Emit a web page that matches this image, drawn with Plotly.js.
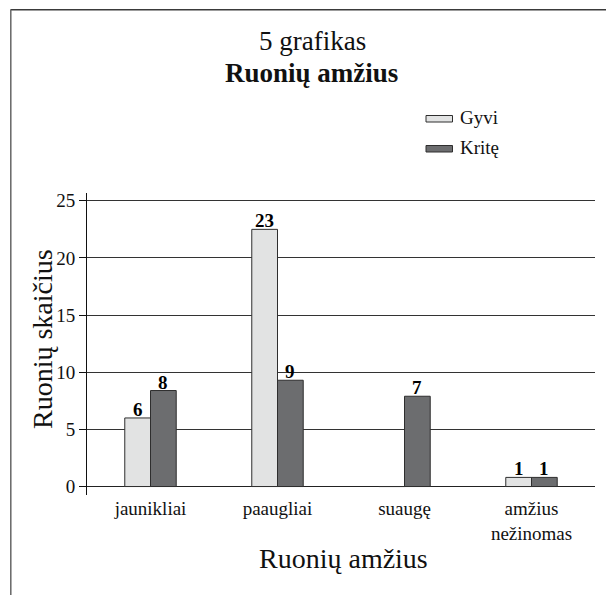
<!DOCTYPE html>
<html>
<head>
<meta charset="utf-8">
<script src="https://cdn.plot.ly/plotly-3.0.1.min.js"></script>
<style>
  html, body { margin: 0; padding: 0; background: #fff; }
  #chart { width: 606px; height: 595px; }
</style>
</head>
<body>
<div id="chart"></div>
<script>
// ---- data ----
const categories = ["jaunikliai", "paaugliai", "suaugę", "amžius<br>nežinomas"];
const seriesNames = ["Gyvi", "Kritę"];
const gyviValues = [6.0, 22.5, 0, 0.8];
const kriteValues = [8.4, 9.3, 7.9, 0.8];
const gyviLabels = ["6", "23", "", "1"];
const kriteLabels = ["8", "9", "7", "1"];
const yTicks = [0, 5, 10, 15, 20, 25];

// ---- layout helpers (pixel -> paper) ----
const L = 87, R = 595, T = 193, B = 495;
const W = 606, H = 595;
const px = v => (v - L) / (R - L);
const py = v => (B - v) / (B - T);

const serif = "Liberation Serif, Times New Roman, serif";
const colGyvi = "#e2e3e3";
const colKrite = "#6c6d6f";
const outline = "#2e2e2e";
const bargap = 0.595;
const halfBar = (R - L) / categories.length * (1 - bargap) / 4;

const traces = [
  {
    type: "bar", name: seriesNames[0], x: categories, y: gyviValues,
    marker: { color: colGyvi, line: { color: outline, width: 1 } },
    hoverinfo: "none"
  },
  {
    type: "bar", name: seriesNames[1], x: categories, y: kriteValues,
    marker: { color: colKrite, line: { color: outline, width: 1 } },
    hoverinfo: "none"
  }
];

// value labels on top of the bars
const valueLabels = [];
[[gyviValues, gyviLabels, -1], [kriteValues, kriteLabels, 1]].forEach(([vals, labs, side]) => {
  categories.forEach((c, i) => {
    if (!labs[i]) return;
    valueLabels.push({
      text: "<b>" + labs[i] + "</b>", x: c, y: vals[i], xref: "x", yref: "y",
      xanchor: "center", yanchor: "bottom", showarrow: false,
      xshift: side * halfBar, yshift: -3, borderpad: 0,
      font: { family: serif, size: 19, color: "#000" }
    });
  });
});

const layout = {
  width: W, height: H,
  margin: { l: L, r: W - R, t: T, b: H - B, pad: 0 },
  paper_bgcolor: "#fff", plot_bgcolor: "#fff",
  showlegend: false,
  barmode: "group", bargap: bargap, bargroupgap: 0,
  font: { family: serif, color: "#000" },
  xaxis: {
    type: "category", showgrid: false, zeroline: false, showline: false,
    ticks: "", tickfont: { family: serif, size: 19, color: "#111" },
    fixedrange: true
  },
  yaxis: {
    range: [-0.74, 25.68], tickvals: yTicks, ticktext: yTicks.map(String),
    showgrid: true, gridcolor: "#333", gridwidth: 1,
    zeroline: true, zerolinecolor: "#222", zerolinewidth: 1,
    showline: true, linecolor: "#111", linewidth: 1,
    ticks: "outside", ticklen: 7, tickcolor: "#111", tickwidth: 1,
    tickfont: { family: serif, size: 19, color: "#111" },
    fixedrange: true
  },
  annotations: valueLabels.concat([
    { text: "5 grafikas", xref: "paper", yref: "paper", x: px(312), y: py(41),
      xanchor: "center", yanchor: "middle", showarrow: false,
      font: { family: serif, size: 27, color: "#111" } },
    { text: "<b>Ruonių amžius</b>", xref: "paper", yref: "paper", x: px(311), y: py(73),
      xanchor: "center", yanchor: "middle", showarrow: false,
      font: { family: serif, size: 27, color: "#111" } },
    { text: seriesNames[0], xref: "paper", yref: "paper", x: px(458), y: py(117),
      xanchor: "left", yanchor: "middle", showarrow: false,
      font: { family: serif, size: 19, color: "#111" } },
    { text: seriesNames[1], xref: "paper", yref: "paper", x: px(458), y: py(147),
      xanchor: "left", yanchor: "middle", showarrow: false,
      font: { family: serif, size: 19, color: "#111" } },
    { text: "Ruonių amžius", xref: "paper", yref: "paper", x: px(343), y: py(558),
      xanchor: "center", yanchor: "middle", showarrow: false,
      font: { family: serif, size: 28, color: "#111" } },
    { text: "Ruonių skaičius", xref: "paper", yref: "paper", x: px(42), y: py(339),
      xanchor: "center", yanchor: "middle", showarrow: false, textangle: -90,
      font: { family: serif, size: 28, color: "#111" } }
  ]),
  shapes: [
    // frame (top and left edges)
    { type: "line", xref: "paper", yref: "paper", x0: px(10.5), x1: px(606), y0: py(9.8), y1: py(9.8),
      line: { color: "#3a3a3a", width: 1.5 } },
    { type: "line", xref: "paper", yref: "paper", x0: px(10.8), x1: px(10.8), y0: py(9.8), y1: py(596),
      line: { color: "#666", width: 1.5 } },
    // legend swatches
    { type: "rect", xref: "paper", yref: "paper", x0: px(426), x1: px(452.5), y0: py(115.5), y1: py(122),
      fillcolor: colGyvi, line: { color: outline, width: 1 } },
    { type: "rect", xref: "paper", yref: "paper", x0: px(426), x1: px(452.5), y0: py(145.5), y1: py(152),
      fillcolor: colKrite, line: { color: outline, width: 1 } }
  ]
};

Plotly.newPlot("chart", traces, layout, { staticPlot: true, displayModeBar: false });
</script>
</body>
</html>
